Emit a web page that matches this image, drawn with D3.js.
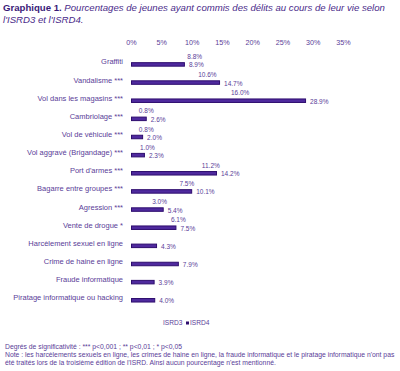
<!DOCTYPE html>
<html><head><meta charset="utf-8">
<script src="https://cdn.jsdelivr.net/npm/d3@7"></script>
<style>
body{margin:0;background:#fff;}
svg{display:block;font-family:"Liberation Sans",Arial,sans-serif;}
</style></head>
<body>
<svg id="c" width="400" height="371"></svg>
<script>
const categories = ["Graffiti","Vandalisme ***","Vol dans les magasins ***","Cambriolage ***","Vol de véhicule ***","Vol aggravé (Brigandage) ***","Port d'armes ***","Bagarre entre groupes ***","Agression ***","Vente de drogue *","Harcèlement sexuel en ligne","Crime de haine en ligne","Fraude informatique","Piratage informatique ou hacking"];
const isrd3 = [8.8,10.6,16.0,0.8,0.8,1.0,11.2,7.5,3.0,6.1,null,null,null,null];
const isrd4 = [8.9,14.7,28.9,2.6,2.0,2.3,14.2,10.1,5.4,7.5,4.3,7.9,3.9,4.0];
const series = ["ISRD3","ISRD4"];
const ticks = [0,5,10,15,20,25,30,35];

const svg = d3.select("#c");
const txt = "#5a3d98";
const dark = "#2e0d6e";
const fillC = "#4f2a9e";

// Title
const t = svg.append("text").attr("x",3).attr("y",11).attr("font-size",9.6).attr("fill","#4a2a8a");
t.append("tspan").attr("font-weight","bold").attr("fill","#3a1a78").text("Graphique 1. ");
t.append("tspan").attr("font-style","italic").text("Pourcentages de jeunes ayant commis des délits au cours de leur vie selon");
svg.append("text").attr("x",3).attr("y",22.5).attr("font-size",9.6).attr("font-style","italic").attr("fill","#4a2a8a").text("l'ISRD3 et l'ISRD4.");

const x = d3.scaleLinear().domain([0,35]).range([131,343]);
const y = d3.scaleBand().domain(categories).range([53,307]);
const ys = d3.scaleBand().domain(series).range([-4.5,4.5]);

// top axis
const ax = svg.append("g").attr("transform","translate(0,45)")
  .call(d3.axisTop(x).tickValues(ticks).tickFormat(d=>d+"%").tickSize(0).tickPadding(0));
ax.select(".domain").remove();
ax.selectAll("text").attr("font-size",7.2).attr("fill",txt).attr("font-family","Liberation Sans, Arial, sans-serif");

// category axis
const ay = svg.append("g").attr("transform","translate(123,0)")
  .call(d3.axisLeft(y).tickSize(0).tickPadding(0));
ay.select(".domain").remove();
ay.selectAll("text").attr("font-size",7.5).attr("fill",txt).attr("font-family","Liberation Sans, Arial, sans-serif");

const rows = categories.map((c,i)=>({c, v3:isrd3[i], v4:isrd4[i]}));
const g = svg.append("g");
const rg = g.selectAll("g.row").data(rows).join("g").attr("class","row")
  .attr("transform",d=>`translate(0,${y(d.c)+y.bandwidth()/2})`);

// ISRD3 bars (white)
rg.filter(d=>d.v3!=null).append("rect")
  .attr("x",x(0)).attr("y",ys("ISRD3")).attr("width",d=>x(d.v3)-x(0)).attr("height",ys.bandwidth())
  .attr("fill","#ffffff");
// ISRD4 bars
rg.append("rect")
  .attr("x",x(0)+0.5).attr("y",ys("ISRD4")+0.6).attr("width",d=>x(d.v4)-x(0)-1).attr("height",ys.bandwidth()-1)
  .attr("fill",fillC).attr("stroke",dark).attr("stroke-width",1);

// labels
const fmt = v=>v.toFixed(1)+"%";
rg.filter(d=>d.v3!=null).append("text")
  .attr("x",d=>x(d.v3)+3).attr("y",ys("ISRD3")-0.8).attr("dy","0.35em")
  .attr("font-size",6.5).attr("fill",txt).text(d=>fmt(d.v3));
rg.append("text")
  .attr("x",d=>x(d.v4)+4).attr("y",ys("ISRD4")+ys.bandwidth()/2+0.8).attr("dy","0.35em")
  .attr("font-size",6.5).attr("fill",txt).text(d=>fmt(d.v4));

// legend
const lg = svg.append("g").attr("transform","translate(0,323)");
lg.append("text").attr("x",163).attr("y",0).attr("dy","0.35em").attr("font-size",6.6).attr("fill",txt).text(series[0]);
lg.append("rect").attr("x",186).attr("y",-1.5).attr("width",3).attr("height",3).attr("fill",dark);
lg.append("text").attr("x",190).attr("y",0).attr("dy","0.35em").attr("font-size",6.6).attr("fill",txt).text(series[1]);

// notes
const notes = ["Degrés de significativité : *** p<0,001 ; ** p<0,01 ; * p<0,05",
"Note : les harcèlements sexuels en ligne, les crimes de haine en ligne, la fraude informatique et le piratage informatique n'ont pas",
"été traités lors de la troisième édition de l'ISRD. Ainsi aucun pourcentage n'est mentionné."];
notes.forEach((n,i)=>svg.append("text").attr("x",5).attr("y",349+i*7.8).attr("font-size",6.8).attr("fill",txt).text(n));
</script>
</body></html>
